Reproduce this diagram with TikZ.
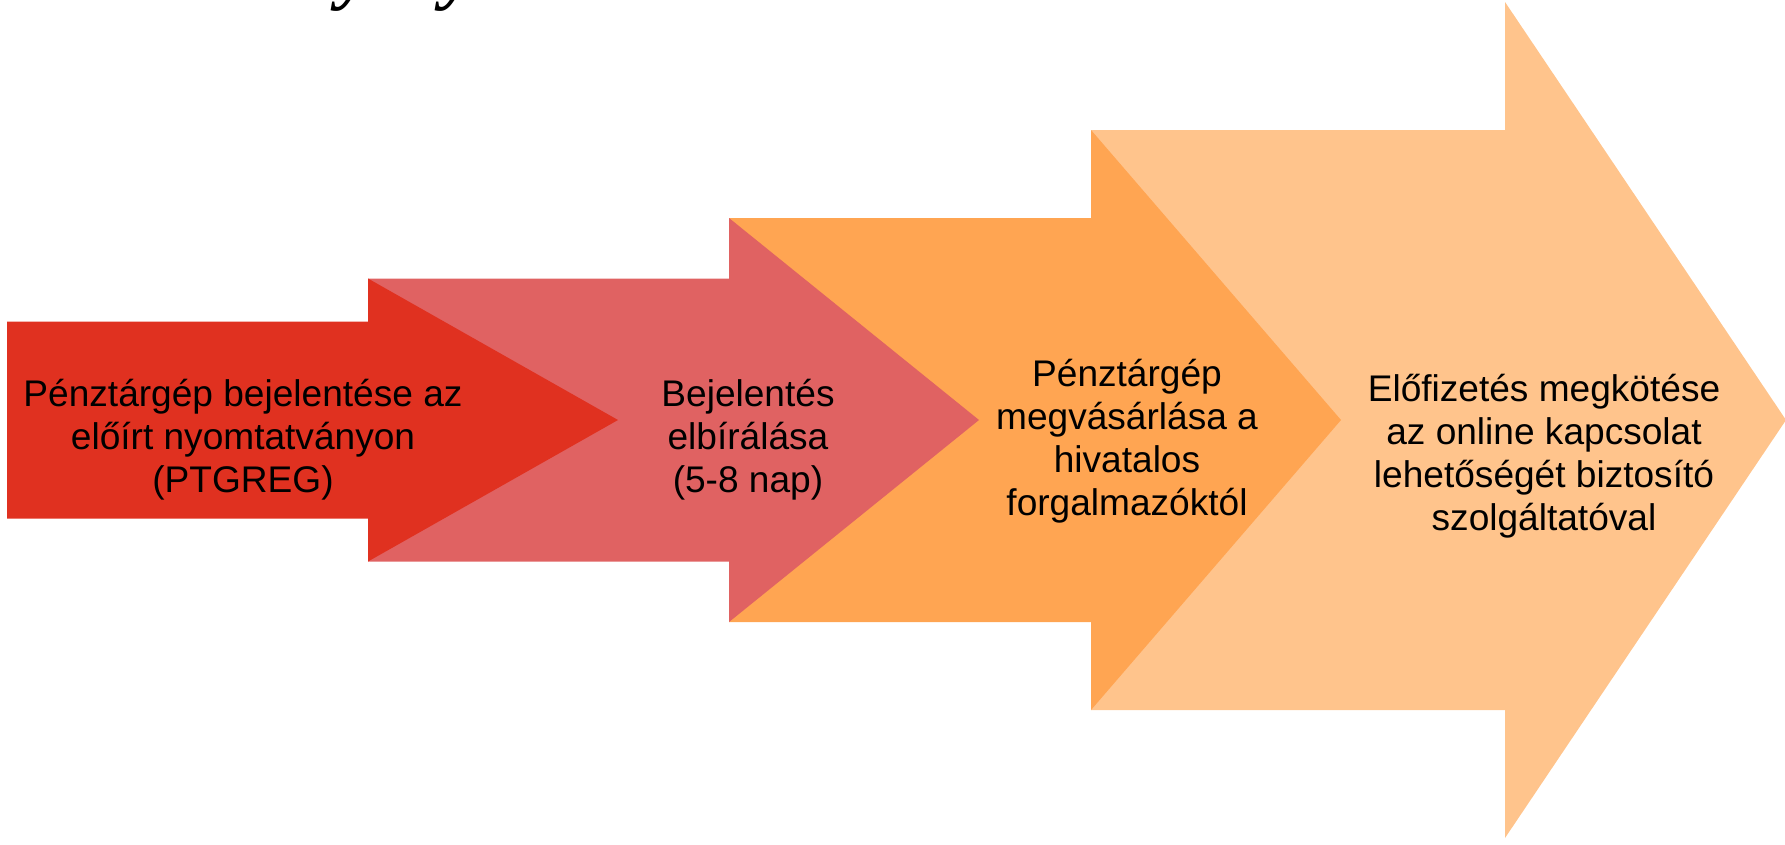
\documentclass[tikz,border=0pt]{standalone}
\usepackage{fontspec}
\setmainfont{Liberation Sans}
\newfontfamily\titlefont{Liberation Serif}
\usepackage{tikz}
\usetikzlibrary{calc}
\definecolor{stepone}{HTML}{E03120}
\definecolor{steptwo}{HTML}{E06262}
\definecolor{stepthree}{HTML}{FFA552}
\definecolor{stepfour}{HTML}{FFC48C}
% arrow: [fill](body left : head base : tip : body half : head half)
\def\midy{424}
\def\steparrow[#1](#2:#3:#4:#5:#6){\fill[#1] (#2, \midy+#5) -- (#3, \midy+#5) -- (#3, \midy+#6) -- (#4, \midy) -- (#3, \midy-#6) -- (#3, \midy-#5) -- (#2, \midy-#5) -- cycle;}
\tikzset{
	steptext/.style={align=center, text=black, inner sep=0pt, font=\fontsize{10.55}{12.2}\selectfont},
	titlebit/.style={anchor=base, inner sep=0pt, font=\titlefont\bfseries\itshape\fontsize{21}{24}\selectfont}
}

\begin{document}
\begin{tikzpicture}[x=0.1mm, y=0.1mm]
			%%%%% START %%%%%
			
			\useasboundingbox (0, 0) rectangle (1785, 844);
			\clip (0, 0) rectangle (1785, 844);
			
			% cut off title
			\node[titlebit] (ya) at (355, 849) {y};
			\node[titlebit] (yb) at (459, 849) {y};
			
			% arrows, back to front
			\steparrow[stepfour](1091:1505:1786:290:418)
			\steparrow[stepthree](729:1091:1341:202:290)
			\steparrow[steptwo](368:729:979:141.5:202)
			\steparrow[stepone](7:368:618:98.5:141.5)
			
			\node[steptext] (bejel) at (243, 404) {Pénztárgép bejelentése az\\előírt nyomtatványon\\(PTGREG)};
			\node[steptext] (elbir) at (748, 404) {Bejelentés\\elbírálása\\(5-8 nap)};
			\node[steptext] (vasar) at (1127, 403) {Pénztárgép\\megvásárlása a\\hivatalos\\forgalmazóktól};
			\node[steptext] (elofiz) at (1544, 388) {Előfizetés megkötése\\az online kapcsolat\\lehetőségét biztosító\\szolgáltatóval};
			
			%%%%% END %%%%%
		\end{tikzpicture}
\end{document}
